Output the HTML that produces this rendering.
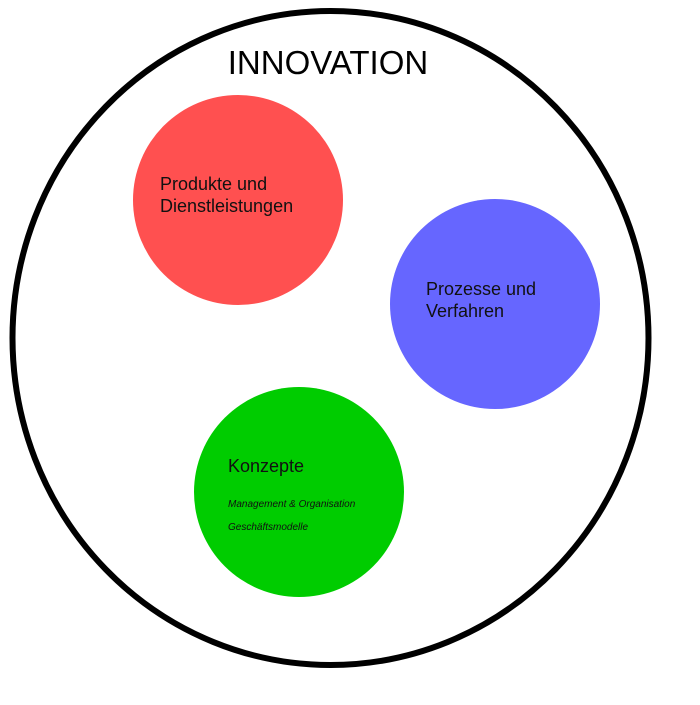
<!DOCTYPE html>
<html><head><meta charset="utf-8"><style>html,body{margin:0;padding:0;background:#fff}</style></head>
<body>
<svg width="700" height="700" viewBox="0 0 700 700" xmlns="http://www.w3.org/2000/svg" font-family="Liberation Sans, Arial, sans-serif">
<rect width="700" height="700" fill="#fff"/>
<ellipse cx="330.5" cy="338" rx="318" ry="327" fill="#fff" stroke="#000" stroke-width="6"/>
<text x="328" y="74" font-size="33" text-anchor="middle" fill="#000">INNOVATION</text>
<circle cx="238" cy="200" r="105" fill="#ff5050"/>
<circle cx="495" cy="304" r="105" fill="#6666ff"/>
<circle cx="299" cy="492" r="105" fill="#00cc00"/>
<text x="160" y="190" font-size="18" fill="#111">Produkte und</text>
<text x="160" y="212" font-size="18" fill="#111">Dienstleistungen</text>
<text x="426" y="295" font-size="18" fill="#111">Prozesse und</text>
<text x="426" y="317" font-size="18" fill="#111">Verfahren</text>
<text x="228" y="472" font-size="18" fill="#111">Konzepte</text>
<text x="228" y="507" font-size="10" font-style="italic" fill="#111">Management &amp; Organisation</text>
<text x="228" y="530" font-size="10" font-style="italic" fill="#111">Geschäftsmodelle</text>
</svg>
</body></html>
